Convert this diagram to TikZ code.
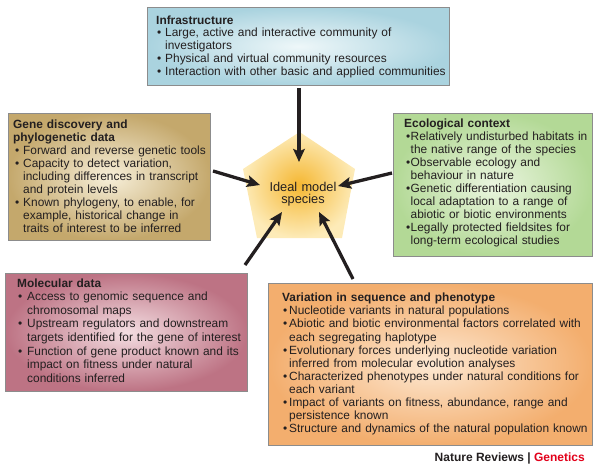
\documentclass[tikz,border=0pt]{standalone}
\usepackage{fontspec}
\setmainfont{Liberation Sans}
\usetikzlibrary{arrows.meta}
\definecolor{ink}{HTML}{231F20}
\definecolor{edge}{HTML}{8C8C8C}
\definecolor{infraO}{HTML}{AAD3DF}
\definecolor{infraI}{HTML}{EEF7F9}
\definecolor{geneO}{HTML}{C4A86C}
\definecolor{geneI}{HTML}{F7EFD9}
\definecolor{ecoO}{HTML}{B3D996}
\definecolor{ecoI}{HTML}{EAF5DF}
\definecolor{molO}{HTML}{BD7384}
\definecolor{molI}{HTML}{F4DEE2}
\definecolor{varO}{HTML}{F3AE6E}
\definecolor{varI}{HTML}{FDE8D2}
\definecolor{pentI}{HTML}{F5B732}
\definecolor{pentO}{HTML}{FDEBB8}
\definecolor{nrred}{HTML}{E2001A}
\def\bulo{1pt}
\def\bulw{8pt}
\def\nl{\hfil\break}
\newcommand\bitem[1]{\par\noindent\hspace*{\bulo}\makebox[\bulw][l]{\textbullet}\parbox[t]{\dimexpr\linewidth-\bulo-\bulw\relax}{\raggedright #1\strut}\par\prevdepth=\dp\strutbox}
\tikzset{
  panel/.style={draw=edge, line width=0.7pt, anchor=north west, inner sep=0pt},
  txt/.style={anchor=base west, inner sep=0pt, align=left, text=ink},
  arr/.style={draw=ink, line width=3.3pt, -{Stealth[length=13pt,width=11.5pt,inset=2.5pt]}}
}
\begin{document}
\begin{tikzpicture}[x=1pt,y=-1pt]
\useasboundingbox (0,0) rectangle (600,471);
% panels
\node[panel, inner color=infraI, outer color=infraO, minimum width=302pt, minimum height=78pt] (infra) at (147,7) {};
\node[panel, inner color=geneI, outer color=geneO, minimum width=202pt, minimum height=127pt] (gene) at (8,113) {};
\node[panel, inner color=ecoI, outer color=ecoO, minimum width=199pt, minimum height=143pt] (eco) at (393,113) {};
\node[panel, inner color=molI, outer color=molO, minimum width=242pt, minimum height=118pt] (mol) at (5,273) {};
\node[panel, inner color=varI, outer color=varO, minimum width=324pt, minimum height=162pt] (var) at (268,283) {};
% pentagon
\shade[inner color=pentI, outer color=pentO] (299.5,132) -- (355,169) -- (342,238) -- (257,238) -- (243,169) -- cycle;
% texts
\node[txt, text width=290pt, font={\fontsize{11.9pt}{12.8pt}\selectfont}] (infratxt) at (156,24) {%
\lineskiplimit=-100pt\def\bulo{1pt}\def\bulw{8pt}%
\textbf{Infrastructure}
\bitem{Large, active and interactive community of\nl investigators}
\bitem{Physical and virtual community resources}
\bitem{Interaction with other basic and applied communities}};
\node[txt, text width=195pt, font={\fontsize{11.9pt}{13pt}\selectfont}] (genetxt) at (13,128) {%
\lineskiplimit=-100pt\def\bulo{2pt}\def\bulw{8pt}%
\textbf{Gene discovery and\nl phylogenetic data}
\bitem{Forward and reverse genetic tools}
\bitem{Capacity to detect variation,\nl including differences in transcript\nl and protein levels}
\bitem{Known phylogeny, to enable, for\nl example, historical change in\nl traits of interest to be inferred}};
\node[txt, text width=186pt, font={\fontsize{11.9pt}{13pt}\selectfont}] (ecotxt) at (404,127.5) {%
\lineskiplimit=-100pt\def\bulo{2pt}\def\bulw{4.5pt}%
\textbf{Ecological context}
\bitem{Relatively undisturbed habitats in\nl the native range of the species}
\bitem{Observable ecology and\nl behaviour in nature}
\bitem{Genetic differentiation causing\nl local adaptation to a range of\nl abiotic or biotic environments}
\bitem{Legally protected fieldsites for\nl long-term ecological studies}};
\node[txt, text width=228pt, font={\fontsize{11.9pt}{13.6pt}\selectfont}] (moltxt) at (17,287) {%
\lineskiplimit=-100pt\def\bulo{1pt}\def\bulw{9pt}%
\textbf{Molecular data}
\bitem{Access to genomic sequence and\nl chromosomal maps}
\bitem{Upstream regulators and downstream\nl targets identified for the gene of interest}
\bitem{Function of gene product known and its\nl impact on fitness under natural\nl conditions inferred}};
\node[txt, text width=308pt, font={\fontsize{11.9pt}{13.1pt}\selectfont}] (vartxt) at (282,301.7) {%
\lineskiplimit=-100pt\def\bulo{1pt}\def\bulw{6pt}%
\textbf{Variation in sequence and phenotype}
\bitem{Nucleotide variants in natural populations}
\bitem{Abiotic and biotic environmental factors correlated with\nl each segregating haplotype}
\bitem{Evolutionary forces underlying nucleotide variation\nl inferred from molecular evolution analyses}
\bitem{Characterized phenotypes under natural conditions for\nl each variant}
\bitem{Impact of variants on fitness, abundance, range and\nl persistence known}
\bitem{Structure and dynamics of the natural population known}};
\node[anchor=base, inner sep=0pt, text width=90pt, align=center, text=ink, font={\fontsize{12.8pt}{12.5pt}\selectfont}] (ideal) at (303,191) {Ideal model\\species};
\node[anchor=base east, inner sep=0pt, text=ink, font={\fontsize{12pt}{14pt}\selectfont\bfseries}] (credit) at (585,461.5) {Nature Reviews | \textcolor{nrred}{Genetics}};
% connectors
\coordinate (s1) at (299,88);  \coordinate (t1) at (299,162);
\coordinate (s2) at (213,171); \coordinate (t2) at (260,185);
\coordinate (s3) at (392,173); \coordinate (t3) at (338,186);
\coordinate (s4) at (245,265); \coordinate (t4) at (282,212);
\coordinate (s5) at (353,279); \coordinate (t5) at (319,212);
\draw[arr] (s1) -- (t1);
\draw[arr] (s2) -- (t2);
\draw[arr] (s3) -- (t3);
\draw[arr] (s4) -- (t4);
\draw[arr] (s5) -- (t5);
\end{tikzpicture}
\end{document}
